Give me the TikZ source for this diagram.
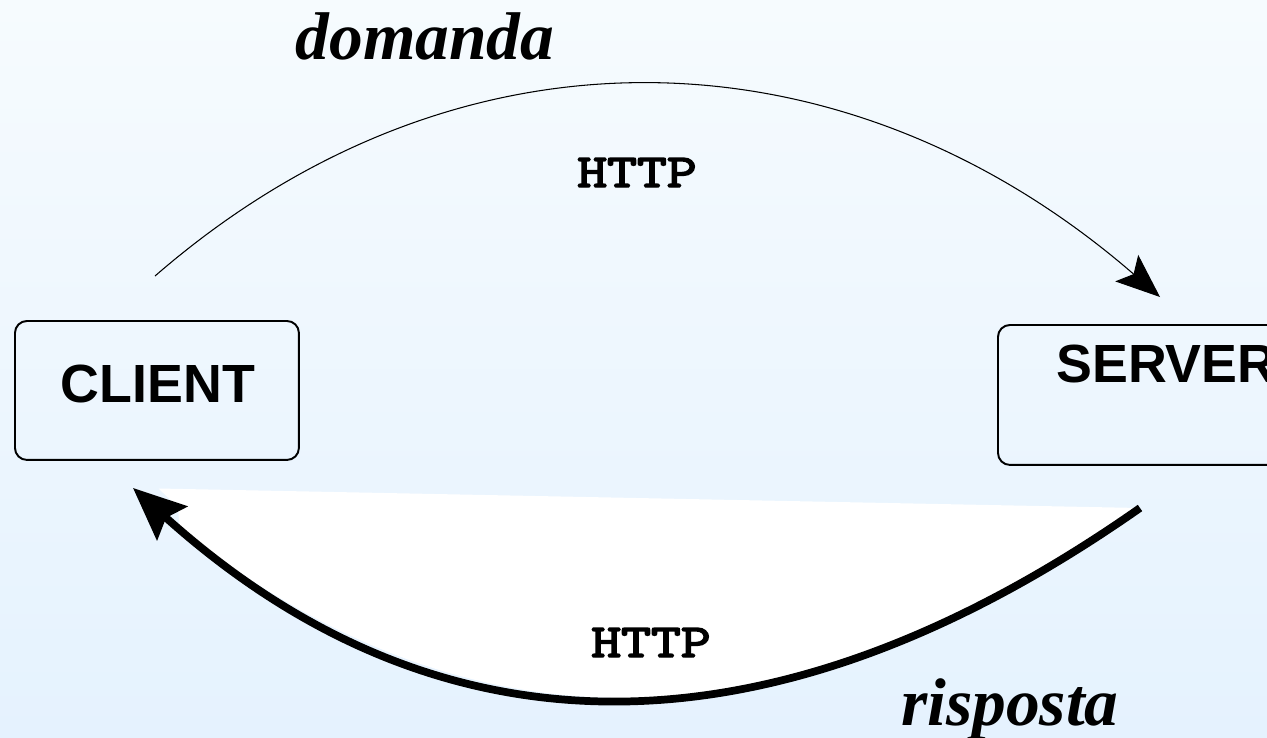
\documentclass[tikz,border=0pt]{standalone}
\usepackage{fontspec}
\setmainfont{Liberation Serif}
\newfontfamily\boxfont{Liberation Sans}
\newfontfamily\protofont[FakeBold=3]{lmmono10-regular.otf}
\usetikzlibrary{arrows.meta}
\definecolor{bgtop}{RGB}{246,251,254}
\definecolor{bgbot}{RGB}{229,242,254}
\begin{document}
\begin{tikzpicture}[x=0.02cm,y=-0.02cm,
  hostbox/.style={draw=black, line width=1.1pt, rounded corners=0.24cm, inner sep=0pt, anchor=north west},
  hostlabel/.style={font=\boxfont\bfseries\fontsize{30.6pt}{36pt}\selectfont, inner sep=0pt},
  verb/.style={font=\bfseries\itshape\fontsize{38.4pt}{44pt}\selectfont, inner sep=0pt, anchor=base},
  proto/.style={font=\protofont\fontsize{27pt}{32pt}\selectfont, inner sep=0pt, anchor=base},
  request/.style={line width=0.6pt, -{Stealth[length=0.88cm,width=0.7cm,inset=0.18cm]}},
  response/.style={line width=4.4pt, -{Stealth[length=1.05cm,width=0.9cm,inset=0.16cm]}}
]
\useasboundingbox (0,0) rectangle (1267,737);
\shade[top color=bgtop, bottom color=bgbot] (0,0) rectangle (1267,737);

% hosts
\node[hostbox, minimum width=5.68cm, minimum height=2.78cm] (client) at (14,320) {};
\node[hostlabel, anchor=base] (clientlabel) at (158,402) {CLIENT};
\node[hostbox, minimum width=6cm, minimum height=2.8cm] (server) at (997,324) {};
\node[hostlabel, anchor=base west] (serverlabel) at (1056,382) {SERVER};

% request
\coordinate (reqstart) at (155,276);
\coordinate (reqend) at (1160,297);
\draw[request] (reqstart) .. controls (464,8) and (851,29) .. (reqend);

% response
\coordinate (respstart) at (1140,508);
\coordinate (respend) at (133,488);
\begin{scope}
  \clip (158,488) -- (178,507) -- (200,800) -- (1300,800) -- (1300,400) -- (158,400) -- cycle;
  \fill[white] (respend) -- (respstart) .. controls (789,754) and (452,775) .. (respend) -- cycle;
\end{scope}
\draw[response] (respstart) .. controls (789,754) and (452,775) .. (respend);

% labels
\node[verb] (domanda) at (425,59) {domanda};
\node[verb] (risposta) at (1010,725) {risposta};
\node[proto] (httpreq) at (637,187) {\scalebox{1.2}[1]{HTTP}};
\node[proto] (httpresp) at (651,657) {\scalebox{1.2}[1]{HTTP}};
\end{tikzpicture}
\end{document}
